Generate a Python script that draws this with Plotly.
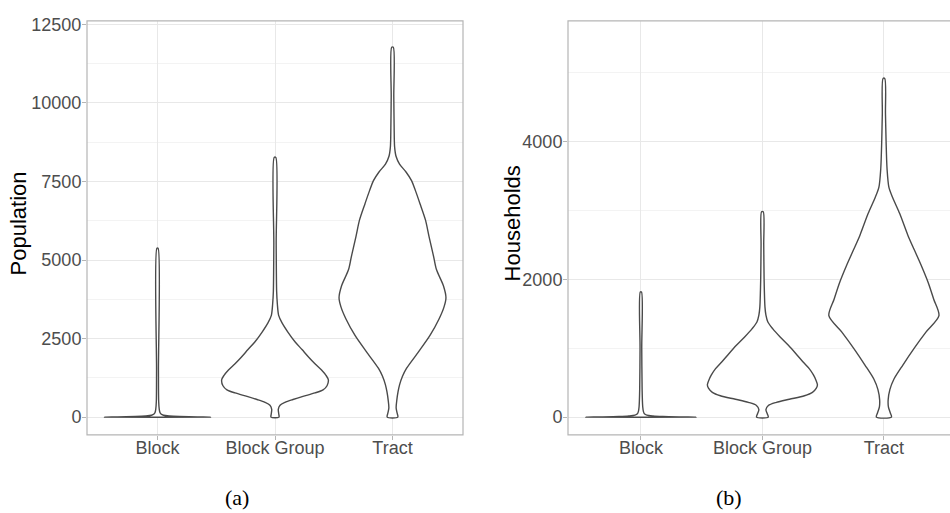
import plotly.graph_objects as go

# Geographic levels shown on both panels
categories = ["Block", "Block Group", "Tract"]

# Violin outlines: value levels and half-widths (in category units) of the density
# Population panel
pop_block_y = [0, 8, 20, 35, 60, 100, 150, 250, 500, 1500, 5377]
pop_block_w = [0.451, 0.340, 0.187, 0.102, 0.051, 0.030, 0.021, 0.015, 0.010, 0.008, 0.005]

pop_bg_y = [0, 100, 250, 380, 470, 560, 660, 770, 870, 1000, 1185, 1330, 1500, 1700, 1900,
            2150, 2400, 2700, 3000, 3240, 3600, 4000, 5500, 8262]
pop_bg_w = [0.034, 0.032, 0.028, 0.043, 0.085, 0.153, 0.238, 0.340, 0.409, 0.443, 0.454,
            0.434, 0.396, 0.340, 0.289, 0.230, 0.170, 0.111, 0.060, 0.031, 0.020, 0.014,
            0.010, 0.007]

pop_tract_y = [0, 150, 300, 550, 800, 1028, 1300, 1550, 2076, 2600, 3123, 3500, 3800, 4173,
               4696, 5126, 5746, 6268, 6793, 7200, 7526, 7800, 8050, 8300, 8600, 9200,
               10200, 11772]
pop_tract_w = [0.045, 0.038, 0.031, 0.037, 0.047, 0.060, 0.085, 0.119, 0.221, 0.319, 0.396,
               0.438, 0.455, 0.434, 0.374, 0.349, 0.311, 0.281, 0.234, 0.196, 0.162, 0.115,
               0.060, 0.030, 0.018, 0.014, 0.011, 0.007]

# Households panel
hh_block_y = [0, 4, 10, 18, 30, 50, 80, 150, 400, 1000, 1816]
hh_block_w = [0.453, 0.329, 0.181, 0.099, 0.049, 0.029, 0.021, 0.015, 0.010, 0.007, 0.005]

hh_bg_y = [0, 50, 110, 170, 215, 260, 310, 360, 420, 469, 540, 612, 700, 803, 920, 1042,
           1160, 1281, 1380, 1480, 1600, 2000, 2500, 2978]
hh_bg_w = [0.048, 0.040, 0.029, 0.049, 0.115, 0.222, 0.346, 0.412, 0.444, 0.453, 0.440,
           0.420, 0.387, 0.333, 0.276, 0.214, 0.148, 0.086, 0.045, 0.029, 0.021, 0.014,
           0.011, 0.007]

hh_tract_y = [0, 60, 150, 250, 400, 550, 756, 994, 1233, 1472, 1710, 1950, 2189, 2427, 2640,
              2953, 3193, 3336, 3600, 4000, 4400, 4913]
hh_tract_w = [0.062, 0.053, 0.037, 0.035, 0.049, 0.082, 0.156, 0.247, 0.346, 0.453, 0.410,
              0.365, 0.310, 0.250, 0.197, 0.130, 0.070, 0.041, 0.026, 0.018, 0.013, 0.007]

pop_ticks = [0, 2500, 5000, 7500, 10000, 12500]
hh_ticks = [0, 2000, 4000]

panels = [
    dict(xa="x", ya="y", data=[(pop_block_y, pop_block_w), (pop_bg_y, pop_bg_w),
                               (pop_tract_y, pop_tract_w)]),
    dict(xa="x2", ya="y2", data=[(hh_block_y, hh_block_w), (hh_bg_y, hh_bg_w),
                                 (hh_tract_y, hh_tract_w)]),
]

W, H = 950, 513
fig = go.Figure()

for p in panels:
    for i, (ys, ws) in enumerate(p["data"]):
        pos = i + 1
        xs = [pos + w for w in ws] + [pos - w for w in reversed(ws)] + [pos + ws[0]]
        yy = list(ys) + list(reversed(ys)) + [ys[0]]
        fig.add_trace(go.Scatter(
            x=xs, y=yy, xaxis=p["xa"], yaxis=p["ya"], mode="lines",
            line=dict(color="#4a4a4a", width=1.4, shape="spline", smoothing=0.8),
            fill="toself", fillcolor="white", hoverinfo="skip", showlegend=False,
        ))

tick_font = dict(family="Liberation Sans, Arial, sans-serif", size=18, color="#4d4d4d")
grid = "#e8e8e8"
minor_grid = "#f3f3f3"
border = "#b5b5b5"

y_dom = [79 / H, 498 / H]
xaxis_common = dict(
    tickvals=[1, 2, 3], ticktext=categories, tickfont=tick_font,
    showgrid=True, gridcolor=grid, gridwidth=1, zeroline=False,
    ticks="outside", ticklen=4, tickcolor=border, showline=False,
    ticklabelstandoff=-8,
)
yaxis_common = dict(
    tickfont=tick_font, showgrid=True, gridcolor=grid, gridwidth=1, zeroline=False,
    ticks="outside", ticklen=4, tickcolor=border, showline=False, domain=y_dom,
    ticklabelstandoff=-3,
)

fig.update_layout(
    width=W, height=H, margin=dict(l=0, r=0, t=0, b=0),
    paper_bgcolor="white", plot_bgcolor="white",
    xaxis=dict(xaxis_common, domain=[87 / W, 463 / W], range=[0.4, 3.6], anchor="y"),
    yaxis=dict(yaxis_common, range=[-566, 12611], tickvals=pop_ticks,
               ticktext=[str(v) for v in pop_ticks], anchor="x",
               minor=dict(dtick=1250, tick0=0, showgrid=True, gridcolor=minor_grid, ticks="")),
    xaxis2=dict(xaxis_common, domain=[568 / W, 1.0], range=[0.4, 3.544], anchor="y2"),
    yaxis2=dict(yaxis_common, range=[-258, 5749], tickvals=hh_ticks,
                ticktext=[str(v) for v in hh_ticks], anchor="x2",
                minor=dict(dtick=1000, tick0=0, showgrid=True, gridcolor=minor_grid, ticks="")),
)

# Panel borders
fig.add_shape(type="rect", xref="x domain", yref="y domain", x0=0, x1=1, y0=0, y1=1,
              line=dict(color=border, width=1.2), layer="above")
fig.add_shape(type="rect", xref="x2 domain", yref="y2 domain", x0=0, x1=1.05, y0=0, y1=1,
              line=dict(color=border, width=1.2), layer="above")

title_font = dict(family="Liberation Sans, Arial, sans-serif", size=22, color="black")
fig.add_annotation(text="Population", x=18 / W, y=(H - 220) / H, xref="paper", yref="paper",
                   textangle=-90, showarrow=False, font=title_font,
                   xanchor="center", yanchor="middle")
fig.add_annotation(text="Households", x=512 / W, y=(H - 220) / H, xref="paper", yref="paper",
                   textangle=-90, showarrow=False, font=title_font,
                   xanchor="center", yanchor="middle")

cap_font = dict(family="Liberation Serif, Times New Roman, serif", size=22, color="black")
fig.add_annotation(text="(a)", x=237 / W, y=(H - 497) / H, xref="paper", yref="paper",
                   showarrow=False, font=cap_font, xanchor="center", yanchor="middle")
fig.add_annotation(text="(b)", x=729 / W, y=(H - 497) / H, xref="paper", yref="paper",
                   showarrow=False, font=cap_font, xanchor="center", yanchor="middle")

fig.write_html("out.html")
